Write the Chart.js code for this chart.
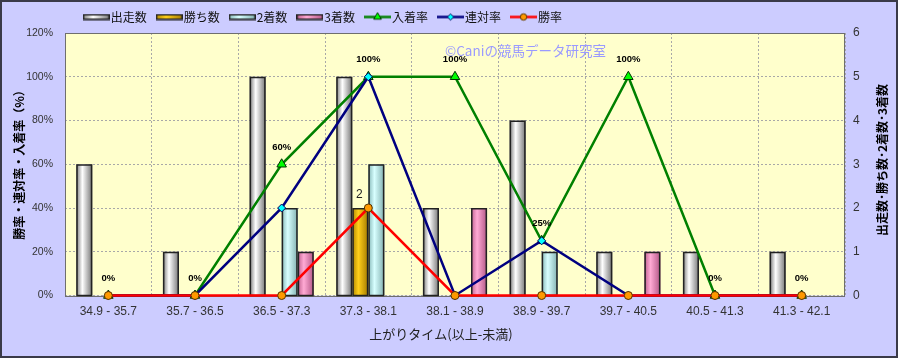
<!DOCTYPE html>
<html><head><meta charset="utf-8">
<script src="https://cdn.jsdelivr.net/npm/chart.js@4/dist/chart.umd.min.js"></script>
<style>html,body{margin:0;padding:0;background:#ccccff;}canvas{display:block}</style>
</head><body>
<canvas id="c" width="898" height="358"></canvas>
<script>
// ---- data ----
const categories = ['34.9 - 35.7','35.7 - 36.5','36.5 - 37.3','37.3 - 38.1','38.1 - 38.9','38.9 - 39.7','39.7 - 40.5','40.5 - 41.3','41.3 - 42.1'];
const runs = [3,1,5,5,2,4,1,1,1];          // 出走数
const wins = [0,0,0,2,0,0,0,0,0];          // 勝ち数
const seconds = [0,0,2,3,0,1,0,0,0];       // 2着数
const thirds = [0,0,1,0,2,0,1,0,0];        // 3着数
const placeRate = [0,0,60,100,100,25,100,0,0];   // 入着率
const quinellaRate = [0,0,40,100,0,25,0,0,0];    // 連対率
const winRate = [0,0,0,40,0,0,0,0,0];            // 勝率
const pctTicks = [0,20,40,60,80,100,120];
const countTicks = [0,1,2,3,4,5,6];
const seriesNames = ['出走数','勝ち数','2着数','3着数','入着率','連対率','勝率'];
const leftTitle = '勝率・連対率・入着率（%）';
const rightTitle = '出走数･勝ち数･2着数･3着数';
const xTitle = '上がりタイム(以上-未満)';
const watermark = '©Caniの競馬データ研究室';

const CJK = '"Noto Sans CJK JP","Noto Sans",sans-serif';
const LAT = '"Liberation Sans",Arial,sans-serif';

const barColors = [
  ['#7a7a7a','#ffffff','#757575'],
  ['#b08600','#ffcf1a','#a47a00'],
  ['#86b8b8','#d8ffff','#82b0b0'],
  ['#bf5f8e','#ffaad4','#b35686']
];
function barGrad(ctx, x0, x1, c) {
  const g = ctx.createLinearGradient(x0, 0, x1, 0);
  g.addColorStop(0, c[0]); g.addColorStop(0.38, c[1]); g.addColorStop(1, c[2]);
  return g;
}
function barIcon(c) {
  const cv = document.createElement('canvas'); cv.width = 27; cv.height = 7;
  const x = cv.getContext('2d');
  x.fillStyle = barGrad(x, 0, 27, c); x.fillRect(0, 1, 27, 5);
  x.strokeStyle = '#222'; x.lineWidth = 1.5; x.strokeRect(0.75, 1.25, 25.5, 4.5);
  return cv;
}
const lineStyles = [
  {color:'#008000', pointStyle:'triangle', fill:'#00ff00', stroke:'#003300', r:5.5},
  {color:'#000080', pointStyle:'rectRot', fill:'#00ffff', stroke:'#000060', r:4},
  {color:'#ff0000', pointStyle:'circle', fill:'#ff9900', stroke:'#553300', r:4}
];
function lineIcon(s) {
  const cv = document.createElement('canvas'); cv.width = 27; cv.height = 13;
  const x = cv.getContext('2d');
  x.strokeStyle = s.color; x.lineWidth = 2.5;
  x.beginPath(); x.moveTo(0, 6.5); x.lineTo(27, 6.5); x.stroke();
  x.fillStyle = s.fill; x.strokeStyle = s.stroke; x.lineWidth = 1;
  Chart.helpers.drawPoint(x, {pointStyle: s.pointStyle, radius: s.r * 0.8, rotation: 0, borderWidth: 1}, 13.5, 6.5);
  return cv;
}
const legendIcons = [barIcon(barColors[0]), barIcon(barColors[1]), barIcon(barColors[2]), barIcon(barColors[3]),
  lineIcon(lineStyles[0]), lineIcon(lineStyles[1]), lineIcon(lineStyles[2])];

const nz = a => a.map(v => v === 0 ? null : v);

function barDS(i, data) {
  return { type:'bar', label: seriesNames[i], data: nz(data), yAxisID:'y1', order: 10,
    backgroundColor:'rgba(0,0,0,0)', borderWidth:0, barPercentage:1, categoryPercentage:0.74 };
}
function lineDS(i, data, s, order) {
  return { type:'line', label: seriesNames[i], data: data, yAxisID:'y', order: order,
    borderColor: s.color, borderWidth: 2.5, backgroundColor: s.fill, pointBackgroundColor: s.fill,
    pointBorderColor: s.stroke, pointBorderWidth: 1, pointStyle: s.pointStyle, pointRadius: s.r,
    tension: 0, fill: false, clip: false };
}

const decor = {
  id: 'decor',
  afterLayout(chart) {
    const lg = chart.legend;
    if (lg) { const w = lg.right - lg.left; lg.left = 73.7; lg.right = lg.left + w; }
  },
  beforeDraw(chart) {
    const {ctx, chartArea: a, width, height} = chart;
    ctx.save();
    ctx.fillStyle = '#ccccff'; ctx.fillRect(0, 0, width, height);
    ctx.fillStyle = '#ffffcc'; ctx.fillRect(a.left, a.top, a.right - a.left, a.bottom - a.top);
    ctx.restore();
  },
  beforeDatasetsDraw(chart) {
    const {ctx, chartArea: a} = chart;
    ctx.save();
    ctx.strokeStyle = '#6e6e6e'; ctx.lineWidth = 1;
    ctx.strokeRect(Math.round(a.left) + 0.5, Math.round(a.top) + 0.5, Math.round(a.right - a.left) - 1, Math.round(a.bottom - a.top));
    // watermark
    ctx.fillStyle = '#9a9aff'; ctx.font = '13.5px ' + CJK; ctx.textBaseline = 'middle'; ctx.textAlign = 'left';
    ctx.fillText(watermark, 445, 51);
    ctx.restore();
  },
  afterDatasetDraw(chart, args) {
    const i = args.index; if (i > 3) return;
    const ctx = chart.ctx;
    args.meta.data.forEach((el, j) => {
      const v = chart.data.datasets[i].data[j]; if (v == null) return;
      const {x, y, base, width} = el.getProps(['x','y','base','width'], true);
      const l = x - width / 2;
      ctx.save();
      ctx.fillStyle = barGrad(ctx, l, l + width, barColors[i]);
      ctx.fillRect(l, y, width, base - y);
      ctx.strokeStyle = '#222'; ctx.lineWidth = 1.5;
      ctx.strokeRect(l + 0.75, y + 0.75, width - 1.5, base - y - 0.75);
      ctx.restore();
    });
  },
  afterDatasetsDraw(chart) {
    const ctx = chart.ctx;
    ctx.save();
    ctx.fillStyle = '#000'; ctx.textAlign = 'center'; ctx.textBaseline = 'middle';
    // 入着率 labels
    ctx.font = 'bold 9.5px ' + LAT;
    chart.getDatasetMeta(4).data.forEach((p, j) => {
      ctx.fillText(placeRate[j] + '%', p.x, p.y - 17);
    });
    // 勝ち数 labels
    ctx.font = '12px ' + LAT; ctx.fillStyle = '#222';
    chart.getDatasetMeta(1).data.forEach((b, j) => {
      if (wins[j] > 0) ctx.fillText(String(wins[j]), b.x - 1, b.y - 13);
    });
    // axis titles
    ctx.fillStyle = '#000';
    ctx.font = 'bold 12px ' + CJK;
    ctx.save(); ctx.translate(19, 162); ctx.rotate(-Math.PI / 2); ctx.fillText(leftTitle, 0, 0); ctx.restore();
    ctx.font = 'bold 12px ' + CJK;
    ctx.save(); ctx.translate(882, 160); ctx.rotate(-Math.PI / 2); ctx.fillText(rightTitle, 0, 0); ctx.restore();
    ctx.font = '13px ' + CJK; ctx.fillStyle = '#222';
    ctx.fillText(xTitle, 441, 334);
    ctx.restore();
  },
  afterDraw(chart) {
    const {ctx, width, height} = chart;
    ctx.save(); ctx.strokeStyle = '#3a3a48'; ctx.lineWidth = 2;
    ctx.strokeRect(1, 1, width - 2, height - 2); ctx.restore();
  }
};

new Chart(document.getElementById('c'), {
  data: {
    labels: categories,
    datasets: [
      barDS(0, runs), barDS(1, wins), barDS(2, seconds), barDS(3, thirds),
      lineDS(4, placeRate, lineStyles[0], 3),
      lineDS(5, quinellaRate, lineStyles[1], 2),
      lineDS(6, winRate, lineStyles[2], 1)
    ]
  },
  options: {
    responsive: false, animation: false, devicePixelRatio: 1,
    layout: { padding: { left: 0, right: 0, top: -3, bottom: 0 } },
    plugins: {
      tooltip: { enabled: false },
      legend: {
        position: 'top', align: 'start', maxHeight: 36,
        labels: {
          usePointStyle: true, pointStyleWidth: 17, padding: 14, color: '#111',
          font: { family: CJK, size: 12 },
          sort: (a, b) => a.datasetIndex - b.datasetIndex,
          generateLabels(chart) {
            const items = Chart.defaults.plugins.legend.labels.generateLabels(chart);
            items.forEach(it => { it.pointStyle = legendIcons[it.datasetIndex]; });
            return items;
          }
        }
      }
    },
    scales: {
      x: {
        type: 'category', offset: true,
        grid: { offset: true, color: '#a8a8a8', drawTicks: false },
        border: { display: false, dash: [2, 2] },
        ticks: { color: '#333', font: { family: LAT, size: 12 }, padding: 9, maxRotation: 0, autoSkip: false },
        afterFit(s) { s.height = 62.5; }
      },
      y: {
        position: 'left', min: 0, max: 120,
        afterBuildTicks(s) { s.ticks = pctTicks.map(v => ({ value: v })); },
        ticks: { callback: v => v + '%', color: '#333', font: { family: LAT, size: 10.5 }, padding: 12 },
        grid: { color: '#a8a8a8', drawTicks: false },
        border: { display: false, dash: [2, 2] },
        afterFit(s) { s.width = 65; }
      },
      y1: {
        position: 'right', min: 0, max: 6,
        afterBuildTicks(s) { s.ticks = countTicks.map(v => ({ value: v })); },
        ticks: { color: '#333', font: { family: LAT, size: 12 }, padding: 8 },
        grid: { display: false, drawTicks: false },
        border: { display: false },
        afterFit(s) { s.width = 53; }
      }
    }
  },
  plugins: [decor]
});
</script>
</body></html>
